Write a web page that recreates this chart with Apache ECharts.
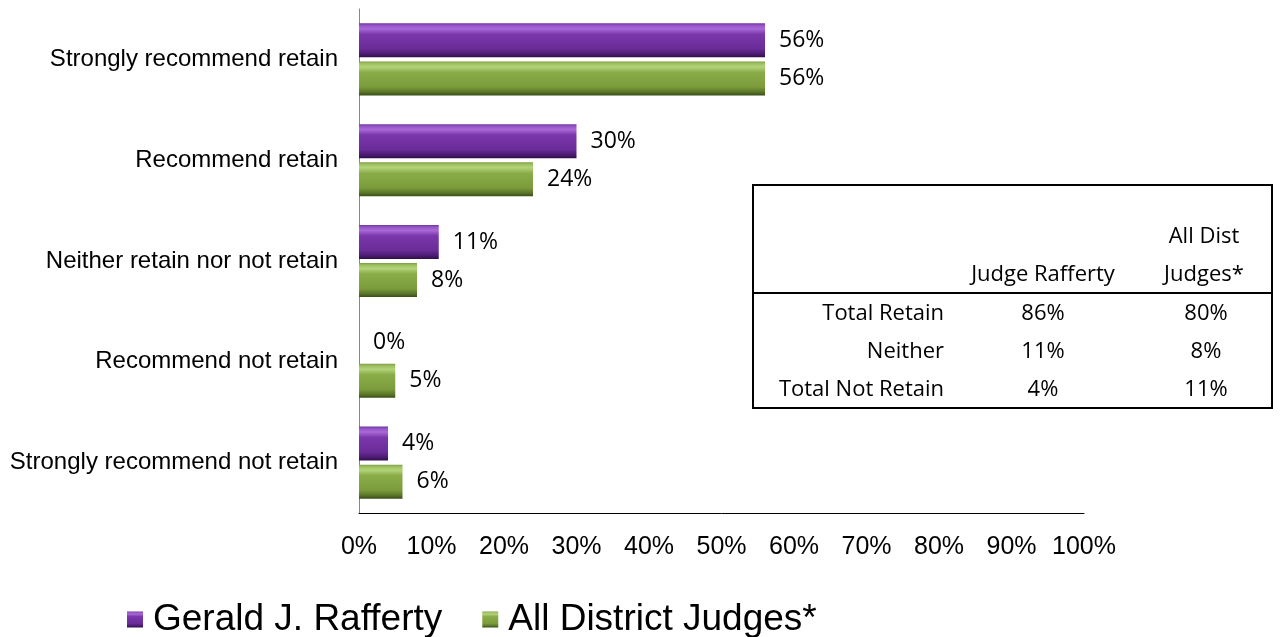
<!DOCTYPE html>
<html>
<head>
<meta charset="utf-8">
<script src="https://cdn.jsdelivr.net/npm/echarts@6/dist/echarts.min.js"></script>
<style>
html,body{margin:0;padding:0;background:#fff;}
#main{width:1280px;height:637px;}
</style>
</head>
<body>
<div id="main"></div>
<script>
const categories = ['Strongly recommend retain','Recommend retain','Neither retain nor not retain','Recommend not retain','Strongly recommend not retain'];
const raffertyValues = [56, 30, 11, 0, 4];
const allJudgesValues = [56, 24, 8, 5, 6];
const seriesNames = ['Gerald J. Rafferty', 'All District Judges*'];
const tableHeaderJudge = 'Judge Rafferty';
const tableHeaderAll = ['All Dist', 'Judges*'];
const tableRowLabels = ['Total Retain', 'Neither', 'Total Not Retain'];
const tableJudge = ['86%', '11%', '4%'];
const tableAll = ['80%', '8%', '11%'];

function grad(stops){
  return new echarts.graphic.LinearGradient(0,0,0,1, stops.map(c=>({offset:c[0], color:c[1]})));
}
const purpleFill = grad([[0,'#6E34A0'],[0.06,'#9454C6'],[0.16,'#A969D6'],[0.32,'#7A37AB'],[0.75,'#6A2C98'],[0.9,'#4C1B72'],[1,'#2E0E48']]);
const greenFill = grad([[0,'#7E9E42'],[0.06,'#9DBF5E'],[0.16,'#B3D47A'],[0.32,'#8AAC48'],[0.75,'#7C9C3C'],[0.9,'#5A7628'],[1,'#3A4C18']]);

const chart = echarts.init(document.getElementById('main'));

const dataFont = '"Open Sans", sans-serif';
const tFont = '22px "Open Sans", sans-serif';
const graphics = [
  {type:'rect', shape:{x:753, y:185, width:519, height:223}, style:{fill:'#fff', stroke:'#000', lineWidth:2}, z:10},
  {type:'line', shape:{x1:753, y1:293, x2:1272, y2:293}, style:{stroke:'#000', lineWidth:2}, z:11},
  {type:'text', x:1043, y:275, z:11, style:{text:tableHeaderJudge, textAlign:'center', textVerticalAlign:'middle', font:tFont, fill:'#000'}},
  {type:'text', x:1204, y:237, z:11, style:{text:tableHeaderAll[0], textAlign:'center', textVerticalAlign:'middle', font:tFont, fill:'#000'}},
  {type:'text', x:1204, y:275, z:11, style:{text:tableHeaderAll[1], textAlign:'center', textVerticalAlign:'middle', font:tFont, fill:'#000'}}
];
const rowY = [314, 352, 390];
tableRowLabels.forEach((lab,i)=>{
  graphics.push({type:'text', x:944, y:rowY[i], z:11, style:{text:lab, textAlign:'right', textVerticalAlign:'middle', font:tFont, fill:'#000'}});
  graphics.push({type:'text', x:1043, y:rowY[i], z:11, style:{text:tableJudge[i], textAlign:'center', textVerticalAlign:'middle', font:tFont, fill:'#000'}});
  graphics.push({type:'text', x:1206, y:rowY[i], z:11, style:{text:tableAll[i], textAlign:'center', textVerticalAlign:'middle', font:tFont, fill:'#000'}});
});

const option = {
  animation:false,
  backgroundColor:'#fff',
  grid:{left:359, right:196, top:9, bottom:124, containLabel:false},
  legend:{
    left:122, top:596, itemWidth:16, itemHeight:16, itemGap:40,
    icon:'rect',
    textStyle:{fontFamily:'"Liberation Sans", Arial, sans-serif', fontSize:37, color:'#000', padding:[0,0,0,5]},
    data:seriesNames
  },
  xAxis:{
    type:'value', min:0, max:100, interval:10,
    axisLine:{show:true, lineStyle:{color:'#000', width:1}},
    axisTick:{show:false},
    splitLine:{show:false},
    axisLabel:{formatter:v=>v+'%', fontFamily:'"Liberation Sans", Arial, sans-serif', fontSize:25, color:'#000', margin:22}
  },
  yAxis:{
    type:'category', data:categories, inverse:true,
    axisLine:{show:true, lineStyle:{color:'#888', width:1}},
    axisTick:{show:false},
    axisLabel:{fontFamily:'"Liberation Sans", Arial, sans-serif', fontSize:24, color:'#000', margin:21}
  },
  series:[
    {name:seriesNames[0], type:'bar', data:raffertyValues, barWidth:34, barGap:'12%',
      itemStyle:{color:purpleFill, borderWidth:0},
      label:{show:true, position:'right', distance:14, formatter:'{c}%', fontFamily:dataFont, fontSize:23, color:'#000'}},
    {name:seriesNames[1], type:'bar', data:allJudgesValues, barWidth:34,
      itemStyle:{color:greenFill, borderWidth:0},
      label:{show:true, position:'right', distance:14, formatter:'{c}%', fontFamily:dataFont, fontSize:23, color:'#000'}}
  ],
  graphic:graphics
};
chart.setOption(option);
</script>
</body>
</html>
